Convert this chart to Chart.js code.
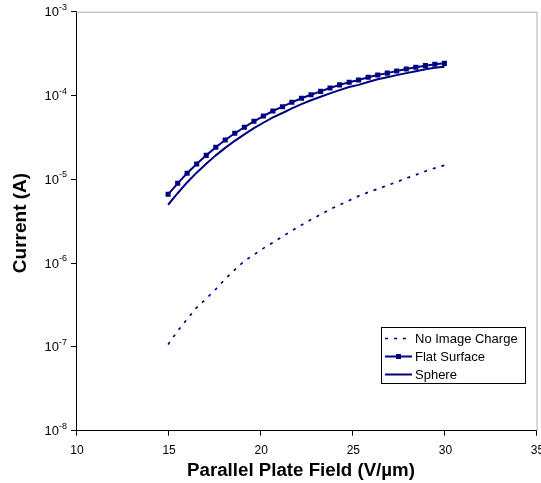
<!DOCTYPE html>
<html>
<head>
<meta charset="utf-8">
<script src="https://cdn.jsdelivr.net/npm/chart.js@4/dist/chart.umd.min.js"></script>
<style>
  html, body { margin: 0; padding: 0; background: #fff; }
  canvas { display: block; }
</style>
</head>
<body>
<canvas id="currentChart" width="541" height="483"></canvas>
<script>
// Field values (V/um) shared by all three curves
const fieldValues = [
    15.00, 15.52, 16.03, 16.55, 17.07, 17.59, 18.10, 18.62, 19.14, 19.66,
    20.17, 20.69, 21.21, 21.72, 22.24, 22.76, 23.28, 23.79, 24.31, 24.83,
    25.34, 25.86, 26.38, 26.90, 27.41, 27.93, 28.45, 28.97, 29.48, 30.00
];

// Emission current (A)
const noImageCharge = [
    1.07e-7, 1.55e-7, 2.14e-7, 2.95e-7, 3.76e-7, 4.90e-7, 6.46e-7, 8.32e-7, 1.06e-6, 1.26e-6,
    1.50e-6, 1.76e-6, 2.07e-6, 2.44e-6, 2.84e-6, 3.31e-6, 3.80e-6, 4.38e-6, 4.95e-6, 5.60e-6,
    6.31e-6, 7.00e-6, 7.67e-6, 8.45e-6, 9.29e-6, 1.03e-5, 1.13e-5, 1.25e-5, 1.36e-5, 1.47e-5
];
const flatSurface = [
    6.62e-6, 8.96e-6, 1.18e-5, 1.52e-5, 1.93e-5, 2.41e-5, 2.94e-5, 3.54e-5, 4.18e-5, 4.92e-5,
    5.69e-5, 6.53e-5, 7.35e-5, 8.29e-5, 9.27e-5, 1.02e-4, 1.12e-4, 1.23e-4, 1.34e-4, 1.44e-4,
    1.53e-4, 1.65e-4, 1.76e-4, 1.85e-4, 1.96e-4, 2.07e-4, 2.17e-4, 2.27e-4, 2.36e-4, 2.42e-4
];
const sphere = [
    4.97e-6, 6.82e-6, 9.17e-6, 1.20e-5, 1.53e-5, 1.93e-5, 2.37e-5, 2.88e-5, 3.44e-5, 4.07e-5,
    4.73e-5, 5.47e-5, 6.18e-5, 7.03e-5, 7.89e-5, 8.77e-5, 9.66e-5, 1.06e-4, 1.16e-4, 1.26e-4,
    1.34e-4, 1.45e-4, 1.56e-4, 1.65e-4, 1.75e-4, 1.85e-4, 1.95e-4, 2.06e-4, 2.14e-4, 2.21e-4
];

const xTickValues = [10, 15, 20, 25, 30, 35];
const yTickValues = [1e-8, 1e-7, 1e-6, 1e-5, 1e-4, 1e-3];
const seriesNames = ['No Image Charge', 'Flat Surface', 'Sphere'];

const NAVY = '#000080';
const FONT = '"Liberation Sans", Arial, sans-serif';

const toPoints = values => values.map((v, i) => ({ x: fieldValues[i], y: v }));

// Tick labels, axis titles, frame and legend are painted by hand
const decorations = {
    id: 'decorations',
    afterDraw(chart) {
        const ctx = chart.ctx;
        const area = chart.chartArea;
        const xs = chart.scales.x;
        const ys = chart.scales.y;
        ctx.save();

        // grey top/right frame
        ctx.strokeStyle = '#b0b0b0';
        ctx.lineWidth = 1;
        ctx.beginPath();
        ctx.moveTo(area.left, area.top + 0.5);
        ctx.lineTo(area.right + 0.5, area.top + 0.5);
        ctx.lineTo(area.right + 0.5, area.bottom);
        ctx.stroke();

        ctx.fillStyle = '#000';

        // x tick labels
        ctx.font = '12px ' + FONT;
        ctx.textAlign = 'center';
        ctx.textBaseline = 'alphabetic';
        xTickValues.forEach(v => {
            ctx.fillText(String(v), xs.getPixelForValue(v) + 1, 454);
        });

        // y tick labels as 10 with superscript exponent
        yTickValues.forEach(v => {
            const y = ys.getPixelForValue(v);
            const exp = String(Math.round(Math.log10(v)));
            ctx.font = '9px ' + FONT;
            const ew = ctx.measureText(exp).width;
            ctx.textAlign = 'left';
            ctx.fillText(exp, 67 - ew, y - 2);
            ctx.font = '13px ' + FONT;
            ctx.textAlign = 'right';
            ctx.fillText('10', 67 - ew, y + 4.5);
        });

        // axis titles
        ctx.font = 'bold 18.7px ' + FONT;
        ctx.textAlign = 'center';
        ctx.fillText('Parallel Plate Field (V/\u00b5m)', 301, 476);
        ctx.save();
        ctx.translate(26, 223);
        ctx.rotate(-Math.PI / 2);
        ctx.font = 'bold 19px ' + FONT;
        ctx.fillText('Current (A)', 0, 0);
        ctx.restore();

        // legend box
        const lx = 381.5, ly = 327.5, lw = 144, lh = 56;
        ctx.fillStyle = '#fff';
        ctx.fillRect(lx, ly, lw, lh);
        ctx.strokeStyle = '#000';
        ctx.lineWidth = 1;
        ctx.strokeRect(lx, ly, lw, lh);

        chart.data.datasets.forEach((ds, i) => {
            const y = 338.5 + i * 18;
            ctx.strokeStyle = ds.borderColor;
            ctx.lineWidth = ds.borderWidth;
            ctx.setLineDash(ds.borderDash || []);
            ctx.beginPath();
            ctx.moveTo(385, y);
            ctx.lineTo(412, y);
            ctx.stroke();
            ctx.setLineDash([]);
            if (ds.pointRadius > 0) {
                ctx.fillStyle = ds.backgroundColor;
                ctx.fillRect(396, y - 2.5, 5, 5);
            }
            ctx.fillStyle = '#000';
            ctx.font = '13px ' + FONT;
            ctx.textAlign = 'left';
            ctx.fillText(ds.label, 415, y + 4.5);
        });

        ctx.restore();
    }
};

const ctx = document.getElementById('currentChart').getContext('2d');
new Chart(ctx, {
    type: 'line',
    data: {
        datasets: [
            {
                label: seriesNames[0],
                data: toPoints(noImageCharge),
                borderColor: NAVY,
                backgroundColor: NAVY,
                borderWidth: 1.7,
                borderDash: [3, 6],
                pointRadius: 0,
                tension: 0
            },
            {
                label: seriesNames[1],
                data: toPoints(flatSurface),
                borderColor: NAVY,
                backgroundColor: NAVY,
                borderWidth: 2,
                pointStyle: 'rect',
                pointRadius: 3.6,
                pointBorderWidth: 0,
                tension: 0
            },
            {
                label: seriesNames[2],
                data: toPoints(sphere),
                borderColor: NAVY,
                backgroundColor: NAVY,
                borderWidth: 2,
                pointRadius: 0,
                tension: 0
            }
        ]
    },
    options: {
        responsive: false,
        animation: false,
        devicePixelRatio: 1,
        layout: {
            padding: { left: 0, right: 4.5, top: 11.7, bottom: 0 }
        },
        scales: {
            x: {
                type: 'linear',
                min: 10,
                max: 35,
                afterBuildTicks: scale => {
                    scale.ticks = xTickValues.map(v => ({ value: v }));
                },
                afterFit: scale => { scale.height = 52.3; },
                ticks: { display: false },
                grid: {
                    drawOnChartArea: false,
                    drawTicks: true,
                    tickLength: 5,
                    color: '#000'
                },
                border: { color: '#000', width: 1 }
            },
            y: {
                type: 'logarithmic',
                min: 1e-8,
                max: 1e-3,
                afterBuildTicks: scale => {
                    scale.ticks = yTickValues.map(v => ({ value: v }));
                },
                afterFit: scale => { scale.width = 76; },
                ticks: { display: false },
                grid: {
                    drawOnChartArea: false,
                    drawTicks: true,
                    tickLength: 5,
                    color: '#000'
                },
                border: { color: '#000', width: 1 }
            }
        },
        plugins: {
            legend: { display: false },
            tooltip: { enabled: false }
        }
    },
    plugins: [decorations]
});
</script>
</body>
</html>
